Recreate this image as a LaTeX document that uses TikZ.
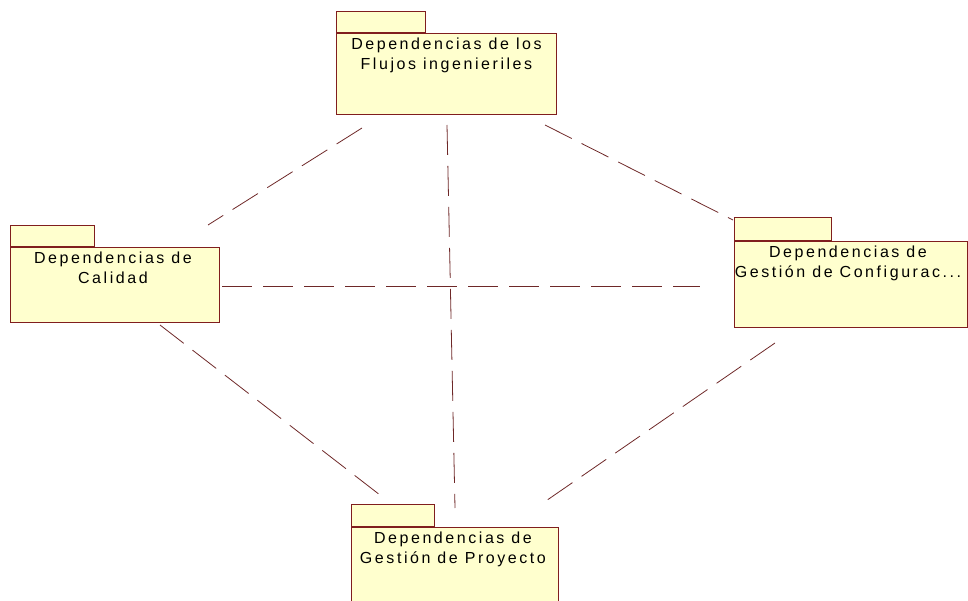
\documentclass[tikz,border=0pt]{standalone}
\usepackage{fontspec}
\newfontfamily\pkgfont[LetterSpace=16]{Liberation Sans}
\definecolor{pkgline}{RGB}{128,30,30}
\definecolor{pkgfill}{RGB}{255,255,206}
\definecolor{deplink}{RGB}{110,40,40}
\begin{document}
\begin{tikzpicture}[x=1pt,y=-1pt,
  pkgbody/.style={draw=pkgline, fill=pkgfill, line width=0.9pt, anchor=north west,
    inner sep=0pt, minimum width=#1},
  pkgtab/.style={draw=pkgline, fill=pkgfill, line width=0.9pt, anchor=south west,
    inner sep=0pt, minimum height=21pt, minimum width=#1},
  pkglabel/.style={anchor=north, align=center, font=\pkgfont\fontsize{16}{19.5}\selectfont,
    text=black, inner sep=0pt},
  deplink/.style={draw=deplink, line width=0.8pt, dash pattern=on 30pt off 11pt}]
\useasboundingbox (0,0) rectangle (968,601);

% package: Flujos ingenieriles
\node[pkgbody=220pt, minimum height=81pt] (flujos) at (336,33) {};
\node[pkgtab=89pt] (flujostab) at (flujos.north west) {};
\node[pkglabel] (flujostxt) at ([yshift=-5pt]flujos.north) {Dependencias de los\\Flujos ingenieriles};

% package: Calidad
\node[pkgbody=209pt, minimum height=75pt] (calidad) at (10,247) {};
\node[pkgtab=84pt] (calidadtab) at (calidad.north west) {};
\node[pkglabel] (calidadtxt) at ([yshift=-5pt,xshift=-2pt]calidad.north) {Dependencias de\\Calidad};

% package: Gestión de Configuración
\node[pkgbody=233pt, minimum height=86pt] (config) at (734,241) {};
\node[pkgtab=97pt, minimum height=23pt] (configtab) at (config.north west) {};
\node[pkglabel] (configtxt) at ([yshift=-5pt,xshift=-3pt]config.north) {Dependencias de\\Gestión de Configurac...};

% package: Gestión de Proyecto
\node[pkgbody=207pt, minimum height=90pt] (proyecto) at (351,527) {};
\node[pkgtab=83pt, minimum height=22pt] (proyectotab) at (proyecto.north west) {};
\node[pkglabel] (proyectotxt) at ([yshift=-5pt,xshift=-2pt]proyecto.north) {Dependencias de\\Gestión de Proyecto};

% free ends of the dependency links
\coordinate (fl1) at (362,128);
\coordinate (ca1) at (208,225);
\coordinate (fl2) at (447,125);
\coordinate (pr2) at (455,508);
\coordinate (fl3) at (545,125);
\coordinate (co3) at (733,220);
\coordinate (ca4) at (222,286);
\coordinate (co4) at (700,286);
\coordinate (ca5) at (160,325);
\coordinate (pr5) at (380,495);
\coordinate (co6) at (775,343);
\coordinate (pr6) at (540,505);

% dependency links
\draw[deplink] (fl1) -- (ca1);
\draw[deplink] (fl2) -- (pr2);
\draw[deplink] (fl3) -- (co3);
\draw[deplink] (ca4) -- (co4);
\draw[deplink] (ca5) -- (pr5);
\draw[deplink] (co6) -- (pr6);
\end{tikzpicture}
\end{document}
